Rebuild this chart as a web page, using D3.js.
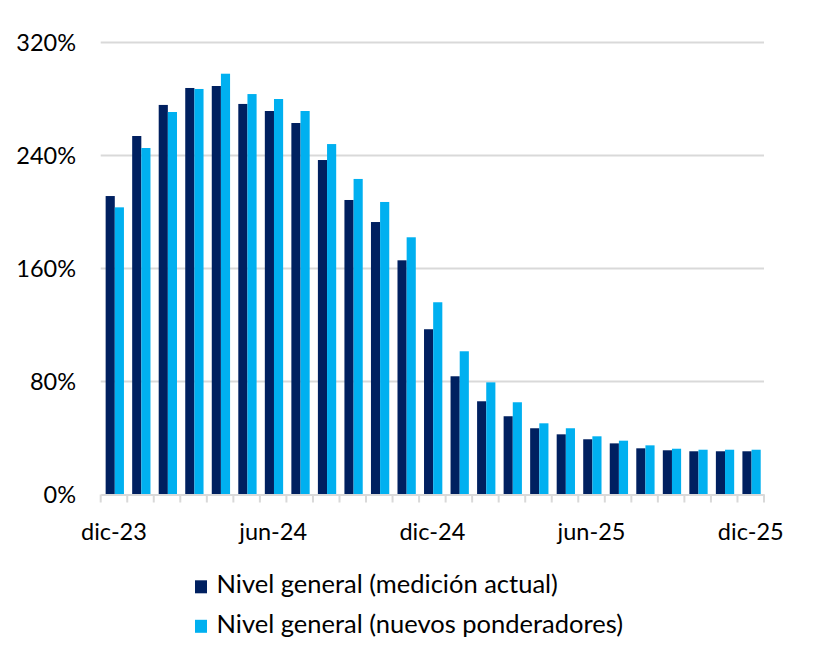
<!DOCTYPE html>
<html>
<head>
<meta charset="utf-8">
<script src="https://cdn.jsdelivr.net/npm/d3@7/dist/d3.min.js"></script>
<style>
  html, body { margin: 0; padding: 0; background: #fff; }
  svg { display: block; font-family: Lato, "Open Sans", sans-serif; }
</style>
</head>
<body>
<svg id="chart" width="825" height="655"></svg>
<script>
// ---- data ----
const months = ["dic-23","ene-24","feb-24","mar-24","abr-24","may-24","jun-24","jul-24","ago-24","sep-24","oct-24","nov-24",
                "dic-24","ene-25","feb-25","mar-25","abr-25","may-25","jun-25","jul-25","ago-25","sep-25","oct-25","nov-25","dic-25"];
const seriesNames = ["Nivel general (medición actual)", "Nivel general (nuevos ponderadores)"];
const actual = [211.3, 253.8, 275.8, 287.8, 289.2, 276.5, 271.5, 263.0, 236.8, 208.5, 192.9, 165.8,
                117.0, 83.7, 66.0, 55.4, 46.9, 42.6, 39.1, 36.2, 32.7, 31.3, 30.6, 30.6, 30.6];
const nuevos = [203.3, 245.3, 270.8, 287.1, 297.9, 283.5, 280.0, 271.5, 248.1, 223.4, 207.1, 182.1,
                136.1, 101.4, 79.4, 65.3, 50.4, 46.9, 41.2, 38.1, 34.8, 32.4, 31.7, 31.7, 31.7];
const yTicks = [0, 80, 160, 240, 320];
const xTickLabels = ["dic-23", "jun-24", "dic-24", "jun-25", "dic-25"];
const colors = ["#002060", "#00B0F0"];

// ---- layout ----
const svg = d3.select("#chart");
const L = 100.7, R = 764, T = 42.5, B = 494.5;

const x0 = d3.scaleBand().domain(months).range([L, R]).padding(0);
const x1 = d3.scaleBand().domain([0, 1]).range([0, x0.bandwidth()]).paddingInner(0).paddingOuter(0.45).align(0.6);
const y = d3.scaleLinear().domain([0, 320]).range([B, T]);

// gridlines
svg.append("g").selectAll("line").data(yTicks.filter(d => d > 0)).join("line")
  .attr("x1", L).attr("x2", R)
  .attr("y1", d => y(d)).attr("y2", d => y(d))
  .attr("stroke", "#d9d9d9").attr("stroke-width", 2);

// y labels
svg.append("g").selectAll("text").data(yTicks).join("text")
  .attr("x", 76).attr("y", d => y(d)).attr("dy", "0.36em")
  .attr("text-anchor", "end")
  .attr("font-size", 23.5).attr("fill", "#000")
  .text(d => d + "%");

// bars
const data = months.map((m, i) => ({ m, vals: [actual[i], nuevos[i]] }));
const groups = svg.append("g").selectAll("g").data(data).join("g")
  .attr("transform", d => `translate(${x0(d.m)},0)`);
groups.selectAll("rect").data(d => d.vals.map((v, k) => ({ k, v }))).join("rect")
  .attr("x", d => x1(d.k))
  .attr("width", x1.bandwidth())
  .attr("y", d => y(d.v))
  .attr("height", d => y(0) - y(d.v))
  .attr("fill", d => colors[d.k]);

// x axis
const xAxis = d3.axisBottom(x0)
  .tickValues(xTickLabels)
  .tickSize(0).tickPadding(0);
const ax = svg.append("g").attr("transform", `translate(0,${B})`).call(xAxis);
ax.select(".domain").attr("stroke", "#d9d9d9").attr("stroke-width", 2);
ax.selectAll(".tick text")
  .attr("font-family", "Lato, 'Open Sans', sans-serif")
  .attr("font-size", 23.5).attr("fill", "#000")
  .attr("y", 45.5).attr("dy", 0);

// tick marks at band boundaries
const bounds = months.map(m => x0(m)).concat([R]);
svg.append("g").selectAll("line").data(bounds).join("line")
  .attr("x1", d => d).attr("x2", d => d)
  .attr("y1", B).attr("y2", B + 8)
  .attr("stroke", "#d9d9d9").attr("stroke-width", 2);

// legend
const leg = svg.append("g").selectAll("g").data(seriesNames).join("g")
  .attr("transform", (d, i) => `translate(195,${593.3 + i * 39.5})`);
leg.append("rect").attr("x", 0).attr("y", -13).attr("width", 12).attr("height", 13)
  .attr("fill", (d, i) => colors[i]);
leg.append("text").attr("x", 21.5).attr("y", 0)
  .attr("font-size", 25.5).attr("fill", "#000")
  .text(d => d);
</script>
</body>
</html>
